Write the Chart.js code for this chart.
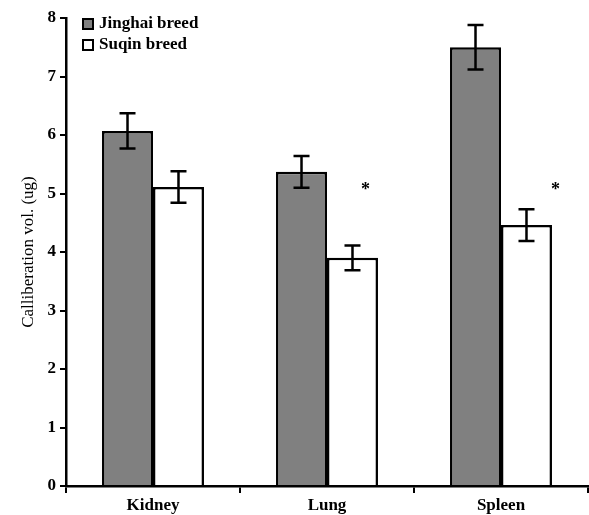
<!DOCTYPE html>
<html>
<head>
<meta charset="utf-8">
<script src="https://cdn.jsdelivr.net/npm/chart.js@4"></script>
<style>
  html, body { margin: 0; padding: 0; background: #fff; }
  #wrap { width: 589px; height: 515px; }
</style>
</head>
<body>
<div id="wrap"><canvas id="grafico" width="589" height="515"></canvas></div>
<script>
// datos del grafico
const organos = ['Kidney', 'Lung', 'Spleen'];
const jinghai = [6.07, 5.37, 7.50];
const jinghaiErr = [0.30, 0.27, 0.38];
const suqin = [5.11, 3.90, 4.46];
const suqinErr = [0.27, 0.21, 0.27];
const asteriscos = [null, 5.13, 5.13]; // marcas de significancia (Suqin)
const yTicks = [0, 1, 2, 3, 4, 5, 6, 7, 8];

const fuente = 'Liberation Serif, Times New Roman, serif';
const desplAst = [0, 13, 29]; // desplazamiento horizontal del asterisco

// barras de error
const errorBars = {
  id: 'errorBars',
  afterDatasetsDraw(chart) {
    const ctx = chart.ctx;
    const y = chart.scales.y;
    const errs = [jinghaiErr, suqinErr];
    ctx.save();
    ctx.strokeStyle = '#000';
    ctx.lineWidth = 2.5;
    chart.data.datasets.forEach((ds, i) => {
      const meta = chart.getDatasetMeta(i);
      meta.data.forEach((bar, j) => {
        const v = ds.data[j];
        const e = errs[i][j];
        const yt = y.getPixelForValue(v + e);
        const yb = y.getPixelForValue(v - e);
        const x = bar.x;
        ctx.beginPath();
        ctx.moveTo(x, yt); ctx.lineTo(x, yb);
        ctx.moveTo(x - 8, yt); ctx.lineTo(x + 8, yt);
        ctx.moveTo(x - 8, yb); ctx.lineTo(x + 8, yb);
        ctx.stroke();
      });
    });
    // asteriscos
    const meta = chart.getDatasetMeta(1);
    ctx.fillStyle = '#000';
    ctx.font = 'bold 18px ' + fuente;
    ctx.textAlign = 'center';
    ctx.textBaseline = 'middle';
    asteriscos.forEach((v, j) => {
      if (v == null) return;
      const bar = meta.data[j];
      ctx.fillText('*', bar.x + desplAst[j], y.getPixelForValue(v) + 4);
    });
    ctx.restore();
  }
};

// leyenda dentro del area
const leyenda = {
  id: 'leyenda',
  afterDraw(chart) {
    const ctx = chart.ctx;
    ctx.save();
    ctx.font = 'bold 17px ' + fuente;
    ctx.textBaseline = 'middle';
    ctx.textAlign = 'left';
    chart.data.datasets.forEach((ds, i) => {
      const yy = 24 + i * 21;
      ctx.fillStyle = ds.backgroundColor;
      ctx.fillRect(83, yy - 5, 10, 10);
      ctx.strokeStyle = '#000';
      ctx.lineWidth = 2;
      ctx.strokeRect(83, yy - 5, 10, 10);
      ctx.fillStyle = '#000';
      ctx.fillText(ds.label, 99, yy);
    });
    ctx.restore();
  }
};

const ctx = document.getElementById('grafico').getContext('2d');
new Chart(ctx, {
  type: 'bar',
  data: {
    labels: organos,
    datasets: [
      {
        label: 'Jinghai breed',
        data: jinghai,
        backgroundColor: '#808080',
        borderColor: '#000',
        borderWidth: 2.5,
        borderSkipped: 'bottom'
      },
      {
        label: 'Suqin breed',
        data: suqin,
        backgroundColor: '#ffffff',
        borderColor: '#000',
        borderWidth: 2.5,
        borderSkipped: 'bottom'
      }
    ]
  },
  options: {
    responsive: false,
    animation: false,
    layout: { padding: { top: 18, right: 1, left: 0, bottom: 0 } },
    plugins: {
      legend: { display: false },
      tooltip: { enabled: false }
    },
    datasets: {
      bar: { categoryPercentage: 0.586, barPercentage: 1.0 }
    },
    scales: {
      x: {
        grid: { drawOnChartArea: false, offset: true, color: '#000', tickLength: 7, lineWidth: 2 },
        border: { color: '#000', width: 2.5 },
        ticks: { color: '#000', font: { family: fuente, size: 17, weight: 'bold' }, padding: 2 },
        afterFit(scale) { scale.height = 29; }
      },
      y: {
        min: 0,
        max: 8,
        afterBuildTicks(scale) { scale.ticks = yTicks.map(v => ({ value: v })); },
        grid: { drawOnChartArea: false, color: '#000', tickLength: 6, lineWidth: 2 },
        border: { color: '#000', width: 2.5 },
        ticks: { color: '#000', font: { family: fuente, size: 17, weight: 'bold' }, padding: 4 },
        title: {
          display: true,
          text: 'Calliberation vol. (ug)',
          color: '#000',
          font: { family: fuente, size: 17, weight: 'normal' },
          padding: { top: 18, bottom: 0 }
        },
        afterFit(scale) { scale.width = 66; }
      }
    }
  },
  plugins: [errorBars, leyenda]
});
</script>
</body>
</html>
